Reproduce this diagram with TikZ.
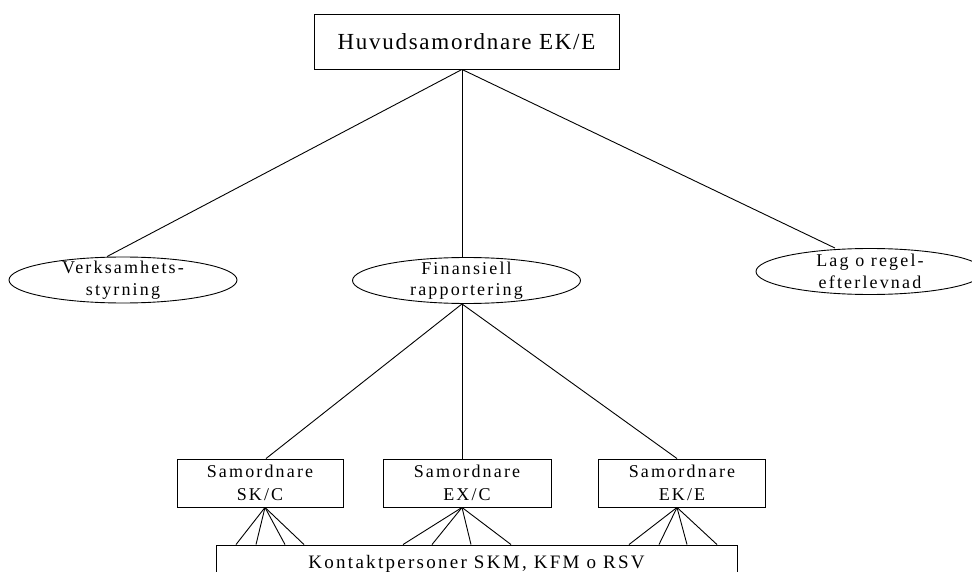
\documentclass[tikz,border=0pt]{standalone}
\usepackage{fontspec}
\setmainfont{Liberation Serif}
\newfontfamily\widefont[LetterSpace=7.5]{Liberation Serif}
\newfontfamily\spacedfont[LetterSpace=12]{Liberation Serif}
\usepackage{tikz}
\usetikzlibrary{shapes.geometric}

\begin{document}
\begin{tikzpicture}[x=1pt,y=-1pt,line width=0.9pt,
    box/.style={draw,rectangle,inner sep=0pt,align=center,font=\spacedfont\fontsize{18}{23}\selectfont},
    area/.style={draw,ellipse,inner xsep=0pt,inner ysep=-4pt,minimum width=228pt,minimum height=46pt,align=center,font=\spacedfont\fontsize{18}{21.5}\selectfont}]
    \useasboundingbox (0,0) rectangle (972,572);
    \clip (0,0) rectangle (972,572);
    % top level
    \node[box,minimum width=305pt,minimum height=55pt,font=\widefont\fontsize{23}{27}\selectfont] (top) at (466.5,41.5) {Huvudsamordnare EK/E};
    % areas
    \node[area] (verk) at (123,280) {Verksamhets-\\styrning};
    \node[area] (fin) at (466.5,280.5) {Finansiell\\rapportering};
    \node[area] (lag) at (870,271.5) {Lag o regel-\\efterlevnad};
    % coordinators
    \node[box,minimum width=166pt,minimum height=48pt] (skc) at (260,483) {Samordnare\\SK/C};
    \node[box,minimum width=168pt,minimum height=48pt] (exc) at (467,483) {Samordnare\\EX/C};
    \node[box,minimum width=167pt,minimum height=48pt] (eke) at (682,483) {Samordnare\\EK/E};
    \node[box,minimum width=521pt,minimum height=45pt,text depth=12pt,font=\spacedfont\fontsize{19}{23}\selectfont] (kontakt) at (476.5,567.5) {Kontaktpersoner SKM, KFM o RSV};
    \draw[-] ([xshift=-4.5pt]top.south) to ([xshift=-16pt]verk.north);
    \draw[-] ([xshift=-4.5pt]top.south) to ([xshift=-4.5pt]fin.north);
    \draw[-] ([xshift=-4.5pt]top.south) to ([xshift=-35pt]lag.north);
    \draw[-] ([xshift=-4.5pt]fin.south) to ([xshift=6pt]skc.north);
    \draw[-] ([xshift=-4.5pt]fin.south) to ([xshift=-5pt]exc.north);
    \draw[-] ([xshift=-4.5pt]fin.south) to ([xshift=-5pt]eke.north);
    \foreach \x in {236,256,285,304}
        \draw[-] ([xshift=5pt]skc.south) to (\x,0 |- kontakt.north);
    \foreach \x in {403,432,471,511}
        \draw[-] ([xshift=-5pt]exc.south) to (\x,0 |- kontakt.north);
    \foreach \x in {629,659,687,717}
        \draw[-] ([xshift=-5pt]eke.south) to (\x,0 |- kontakt.north);
\end{tikzpicture}
\end{document}
